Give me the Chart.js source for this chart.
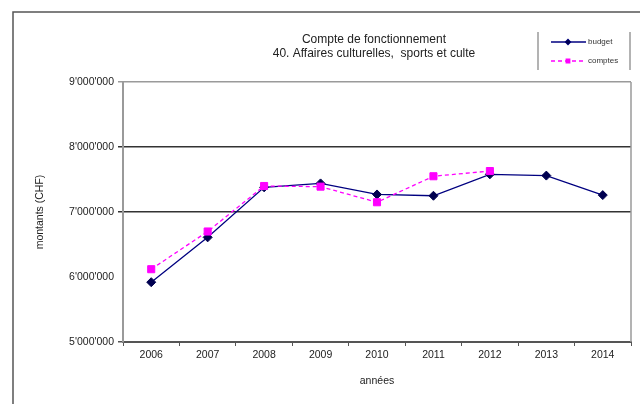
<!DOCTYPE html>
<html>
<head>
<meta charset="utf-8">
<script src="https://cdn.jsdelivr.net/npm/chart.js@4/dist/chart.umd.min.js"></script>
<style>
  html, body { margin: 0; padding: 0; background: #fff; }
  canvas { display: block; }
</style>
</head>
<body>
<canvas id="c" width="640" height="404"></canvas>
<script>
// Years on the category axis
const years = ['2006', '2007', '2008', '2009', '2010', '2011', '2012', '2013', '2014'];
// Budgeted amounts (CHF)
const budget = [5920000, 6610000, 7380000, 7440000, 7270000, 7250000, 7580000, 7560000, 7260000];
// Actual accounts (CHF), not yet known for 2013 and 2014
const comptes = [6120000, 6700000, 7400000, 7390000, 7150000, 7550000, 7630000, null, null];
// Value axis range and step
const yMin = 5000000;
const yMax = 9000000;
const yStep = 1000000;
// Text
const titleLines = ['Compte de fonctionnement', '40. Affaires culturelles,  sports et culte'];
const legendLabels = ['budget', 'comptes'];
const xTitle = 'années';
const yTitle = 'montants (CHF)';

const FONT = '"Liberation Sans", Arial, sans-serif';
const NAVY = '#000080';
const MAGENTA = '#ff00ff';

function swissFormat(v) {
  return String(Math.round(v)).replace(/\B(?=(\d{3})+(?!\d))/g, "'");
}

function gridColor(ctx) {
  const v = ctx.tick && ctx.tick.value;
  if (v === yMax) return '#9a9a9a';
  if (v === yMin) return '#555555';
  if (v === 6000000) return 'rgba(0,0,0,0)';
  return '#333333';
}

const decorations = {
  id: 'decorations',
  afterDraw(chart) {
    const ctx = chart.ctx;
    const a = chart.chartArea;
    ctx.save();
    // outer frame
    ctx.strokeStyle = '#555';
    ctx.lineWidth = 1.5;
    ctx.beginPath();
    ctx.moveTo(13, 404);
    ctx.lineTo(13, 12);
    ctx.lineTo(640, 12);
    ctx.stroke();
    // right edge of plot area
    ctx.strokeStyle = '#9a9a9a';
    ctx.lineWidth = 1.5;
    ctx.beginPath();
    ctx.moveTo(a.right, a.top);
    ctx.lineTo(a.right, a.bottom);
    ctx.stroke();
    // title
    ctx.fillStyle = '#222';
    ctx.font = '12px ' + FONT;
    ctx.textAlign = 'center';
    ctx.textBaseline = 'middle';
    ctx.fillText(titleLines[0], 374, 40);
    ctx.fillText(titleLines[1], 374, 54);
    // legend box sides
    ctx.strokeStyle = '#9a9a9a';
    ctx.lineWidth = 1.5;
    ctx.beginPath();
    ctx.moveTo(538, 32); ctx.lineTo(538, 70);
    ctx.moveTo(630, 32); ctx.lineTo(630, 70);
    ctx.stroke();
    // legend entries
    const ds = chart.data.datasets;
    const rows = [42, 61];
    ds.forEach((d, i) => {
      const y = rows[i];
      ctx.strokeStyle = d.borderColor;
      ctx.lineWidth = d.borderWidth;
      ctx.setLineDash(d.borderDash || []);
      ctx.beginPath();
      ctx.moveTo(551, y);
      ctx.lineTo(586, y);
      ctx.stroke();
      ctx.setLineDash([]);
      Chart.helpers.drawPoint(ctx, {
        pointStyle: d.pointStyle,
        radius: 2.5,
        borderWidth: 1
      }, 568, y);
      ctx.fillStyle = d.pointBackgroundColor;
      ctx.strokeStyle = d.pointBorderColor;
      ctx.fill();
      ctx.fillStyle = '#333';
      ctx.font = '8px ' + FONT;
      ctx.textAlign = 'left';
      ctx.textBaseline = 'middle';
      ctx.fillText(legendLabels[i], 588, y);
    });
    ctx.restore();
  }
};

new Chart(document.getElementById('c'), {
  type: 'line',
  data: {
    labels: years,
    datasets: [
      {
        label: legendLabels[0],
        data: budget,
        borderColor: NAVY,
        borderWidth: 1.3,
        pointStyle: 'rectRot',
        pointRadius: 4.5,
        pointBackgroundColor: '#000050',
        pointBorderColor: '#000050',
        pointBorderWidth: 1,
        tension: 0,
        order: 2
      },
      {
        label: legendLabels[1],
        data: comptes,
        borderColor: MAGENTA,
        borderWidth: 1.3,
        borderDash: [4, 3],
        pointStyle: 'rect',
        pointRadius: 5,
        pointBackgroundColor: MAGENTA,
        pointBorderColor: MAGENTA,
        pointBorderWidth: 1,
        tension: 0,
        spanGaps: false,
        order: 1
      }
    ]
  },
  options: {
    responsive: false,
    animation: false,
    devicePixelRatio: 1,
    layout: { padding: { top: 82, right: 9, bottom: 0, left: 0 } },
    plugins: {
      legend: { display: false },
      title: { display: false },
      tooltip: { enabled: false }
    },
    scales: {
      x: {
        offset: true,
        afterFit(s) { s.height = 62; },
        grid: {
          offset: true,
          drawOnChartArea: false,
          tickLength: 4,
          color: '#555',
          lineWidth: 1
        },
        border: { color: '#555', width: 2 },
        ticks: {
          color: '#222',
          padding: 3,
          maxRotation: 0,
          font: { family: FONT, size: 10.5 }
        },
        title: {
          display: true,
          text: xTitle,
          color: '#222',
          font: { family: FONT, size: 10.5 },
          padding: { top: 17, bottom: 17 }
        }
      },
      y: {
        min: yMin,
        max: yMax,
        afterFit(s) { s.width = 123; },
        grid: {
          color: gridColor,
          tickColor: gridColor,
          lineWidth: 1.5,
          tickLength: 5
        },
        border: { color: '#9a9a9a', width: 2 },
        ticks: {
          stepSize: yStep,
          color: '#222',
          padding: 4,
          font: { family: FONT, size: 10.5 },
          callback: (v) => swissFormat(v)
        },
        title: {
          display: true,
          text: yTitle,
          color: '#222',
          font: { family: FONT, size: 10.5 },
          padding: { top: 34, bottom: 34 }
        }
      }
    }
  },
  plugins: [decorations]
});
</script>
</body>
</html>
